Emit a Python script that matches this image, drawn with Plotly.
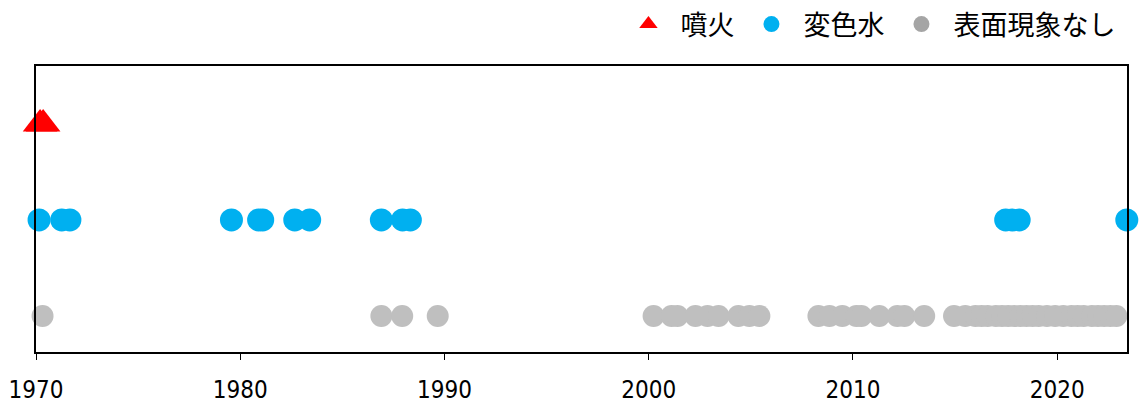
import plotly.graph_objects as go

# Event dates (decimal years)
eruption_years = [1970.2, 1970.35]
discolored_years = [1970.15, 1971.26, 1971.66, 1979.57, 1980.9, 1981.1, 1982.67, 1983.4,
                    1986.91, 1987.95, 1988.33, 2017.48, 2017.8, 2018.14, 2023.41]
no_phenomena_years = [1970.32, 1986.91, 1987.93, 1989.67,
                      2000.24, 2001.12, 2001.41, 2002.29, 2002.88, 2003.42, 2004.39, 2004.93, 2005.42,
                      2008.31, 2008.85, 2009.48, 2010.17, 2010.41, 2011.29, 2012.17, 2012.52, 2013.49,
                      2014.95, 2015.5, 2016.0, 2016.3, 2016.6, 2017.0, 2017.3, 2017.6, 2017.9,
                      2018.2, 2018.5, 2018.8, 2019.1, 2019.5, 2019.9, 2020.3, 2020.7, 2021.0,
                      2021.3, 2021.7, 2022.0, 2022.3, 2022.6, 2022.9]

series_names = ["噴火", "変色水", "表面現象なし"]
row_levels = [3, 2, 1]
tick_years = [1970, 1980, 1990, 2000, 2010, 2020]

font_family = "Noto Sans CJK JP"

fig = go.Figure()
fig.add_trace(go.Scatter(
    x=eruption_years, y=[row_levels[0]] * len(eruption_years), mode="markers",
    name=series_names[0], marker=dict(symbol="triangle-up", size=30, color="#FF0000"),
    cliponaxis=False))
fig.add_trace(go.Scatter(
    x=discolored_years, y=[row_levels[1]] * len(discolored_years), mode="markers",
    name=series_names[1], marker=dict(symbol="circle", size=23, color="#00B0F0"),
    cliponaxis=False))
fig.add_trace(go.Scatter(
    x=no_phenomena_years, y=[row_levels[2]] * len(no_phenomena_years), mode="markers",
    name=series_names[2], marker=dict(symbol="circle", size=22, color="#BFBFBF"),
    showlegend=False, cliponaxis=False))
# legend entry for the grey series (legend swatch is darker grey)
fig.add_trace(go.Scatter(
    x=[None], y=[None], mode="markers", name=series_names[2],
    marker=dict(symbol="circle", size=22, color="#A5A5A5")))

fig.update_layout(
    width=1140, height=405,
    margin=dict(l=36, r=13, t=66, b=53, autoexpand=False),
    paper_bgcolor="white", plot_bgcolor="white",
    showlegend=True,
    legend=dict(orientation="h", x=0.994, xanchor="right", y=1.0, yanchor="top",
                yref="container", xref="paper",
                font=dict(family=font_family, size=27, color="black"),
                itemsizing="trace", itemwidth=54, traceorder="normal",
                bgcolor="rgba(0,0,0,0)"),
    xaxis=dict(range=[1970, 2023.42], tickvals=tick_years, ticktext=[str(t) for t in tick_years],
               automargin=False, ticklabelstandoff=9,
               showgrid=False, zeroline=False, showline=True, linecolor="black", linewidth=2,
               mirror=True, ticks="outside", ticklen=6, tickwidth=1, tickcolor="black",
               tickfont=dict(family="DejaVu Sans Condensed", size=24, color="black")),
    yaxis=dict(range=[0.625, 3.604], showticklabels=False, showgrid=False, zeroline=False,
               automargin=False,
               showline=True, linecolor="black", linewidth=2, mirror=True, ticks=""),
)

fig.write_html("out.html", config={"displayModeBar": False},
               post_script="document.body.style.margin='0';")
